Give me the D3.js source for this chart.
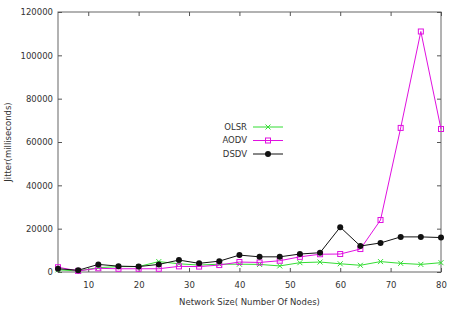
<!DOCTYPE html>
<html>
<head>
<meta charset="utf-8">
<script src="https://cdn.jsdelivr.net/npm/d3@7"></script>
<style>
  body { margin: 0; background: #fff; }
  text { font-family: "DejaVu Sans", Verdana, sans-serif; fill: #333; }
</style>
</head>
<body>
<svg id="chart"></svg>
<script>
let w = 455;
let h = 312;

// data
const nodes = [4, 8, 12, 16, 20, 24, 28, 32, 36, 40, 44, 48, 52, 56, 60, 64, 68, 72, 76, 80];
const olsr = [1000, 500, 2000, 2500, 2500, 4800, 3800, 3200, 3600, 3600, 3500, 2800, 4300, 4600, 3800, 3100, 4800, 4000, 3500, 4300];
const aodv = [2200, 500, 1700, 1500, 1500, 1500, 2600, 2500, 3200, 4600, 4400, 5200, 7000, 8200, 8300, 10600, 24000, 66500, 111000, 66000];
const dsdv = [1500, 800, 3500, 2700, 2500, 3500, 5500, 4000, 5000, 7800, 7000, 7000, 8300, 8900, 20700, 12000, 13400, 16200, 16200, 15900];
const xTicks = [10, 20, 30, 40, 50, 60, 70, 80];
const yTicks = [0, 20000, 40000, 60000, 80000, 100000, 120000];
const seriesNames = ['OLSR', 'AODV', 'DSDV'];

const margin = {left: 58, right: 14, top: 12, bottom: 40};

const svg = d3.select('#chart')
    .attr('width', w)
    .attr('height', h);

const xScale = d3.scaleLinear()
    .domain([4, 80])
    .range([margin.left, w - margin.right]);

const yScale = d3.scaleLinear()
    .domain([0, 120000])
    .range([h - margin.bottom, margin.top]);

// border box
svg.append('rect')
    .attr('x', margin.left)
    .attr('y', margin.top)
    .attr('width', w - margin.left - margin.right)
    .attr('height', h - margin.top - margin.bottom)
    .attr('fill', 'none')
    .attr('stroke', '#666')
    .attr('stroke-width', 1);

// axes with inward ticks (gnuplot style)
const tickStyle = g => {
    g.select('.domain').remove();
    g.selectAll('.tick line').attr('stroke', '#555');
    g.selectAll('.tick text').attr('font-size', 8.5).attr('fill', '#333')
        .style('font-family', '"DejaVu Sans", Verdana, sans-serif');
};

svg.append('g')
    .attr('transform', `translate(0,${h - margin.bottom})`)
    .call(d3.axisBottom(xScale).tickValues(xTicks).tickSizeInner(-4).tickSizeOuter(0).tickPadding(10))
    .call(tickStyle);

svg.append('g')
    .attr('transform', `translate(0,${margin.top})`)
    .call(d3.axisTop(xScale).tickValues(xTicks).tickSizeInner(-4).tickSizeOuter(0).tickFormat(''))
    .call(tickStyle);

svg.append('g')
    .attr('transform', `translate(${margin.left},0)`)
    .call(d3.axisLeft(yScale).tickValues(yTicks).tickSizeInner(-4).tickSizeOuter(0).tickPadding(5).tickFormat(d3.format('d')))
    .call(tickStyle);

svg.append('g')
    .attr('transform', `translate(${w - margin.right},0)`)
    .call(d3.axisRight(yScale).tickValues(yTicks).tickSizeInner(-4).tickSizeOuter(0).tickFormat(''))
    .call(tickStyle);

// axis titles
svg.append('text')
    .attr('x', (margin.left + w - margin.right) / 2)
    .attr('y', 305)
    .attr('text-anchor', 'middle')
    .attr('font-size', 8.5)
    .text('Network Size( Number Of Nodes)');

svg.append('text')
    .attr('transform', `translate(11,${(margin.top + h - margin.bottom) / 2}) rotate(-90)`)
    .attr('text-anchor', 'middle')
    .attr('font-size', 8.5)
    .text('Jitter(milliseconds)');

const series = [
    {name: seriesNames[0], values: olsr, color: '#33dd33', marker: 'x'},
    {name: seriesNames[1], values: aodv, color: '#e010e0', marker: 'square'},
    {name: seriesNames[2], values: dsdv, color: '#111', marker: 'circle'}
];

const line = d3.line()
    .x(d => xScale(d[0]))
    .y(d => yScale(d[1]));

const drawMarker = (g, type, color, x, y) => {
    if (type === 'circle') {
        g.append('circle').attr('cx', x).attr('cy', y).attr('r', 3).attr('fill', color);
    } else if (type === 'square') {
        g.append('rect').attr('x', x - 2.5).attr('y', y - 2.5).attr('width', 5).attr('height', 5)
            .attr('fill', 'none').attr('stroke', color).attr('stroke-width', 1);
    } else {
        g.append('path').attr('d', `M${x - 2.5},${y - 2.5}L${x + 2.5},${y + 2.5}M${x - 2.5},${y + 2.5}L${x + 2.5},${y - 2.5}`)
            .attr('stroke', color).attr('stroke-width', 1);
    }
};

series.forEach(s => {
    const pts = nodes.map((n, i) => [n, s.values[i]]);
    svg.append('path')
        .datum(pts)
        .attr('d', line)
        .attr('fill', 'none')
        .attr('stroke', s.color)
        .attr('stroke-width', 1);
    const g = svg.append('g');
    pts.forEach(p => drawMarker(g, s.marker, s.color, xScale(p[0]), yScale(p[1])));
});

// legend
const legend = svg.append('g');
series.forEach((s, i) => {
    const ly = 127 + i * 13.5;
    legend.append('text')
        .attr('x', 247)
        .attr('y', ly)
        .attr('dy', '0.35em')
        .attr('text-anchor', 'end')
        .attr('font-size', 8.5)
        .text(s.name);
    legend.append('line')
        .attr('x1', 253).attr('x2', 283)
        .attr('y1', ly).attr('y2', ly)
        .attr('stroke', s.color)
        .attr('stroke-width', 1);
    drawMarker(legend, s.marker, s.color, 268, ly);
});
</script>
</body>
</html>
